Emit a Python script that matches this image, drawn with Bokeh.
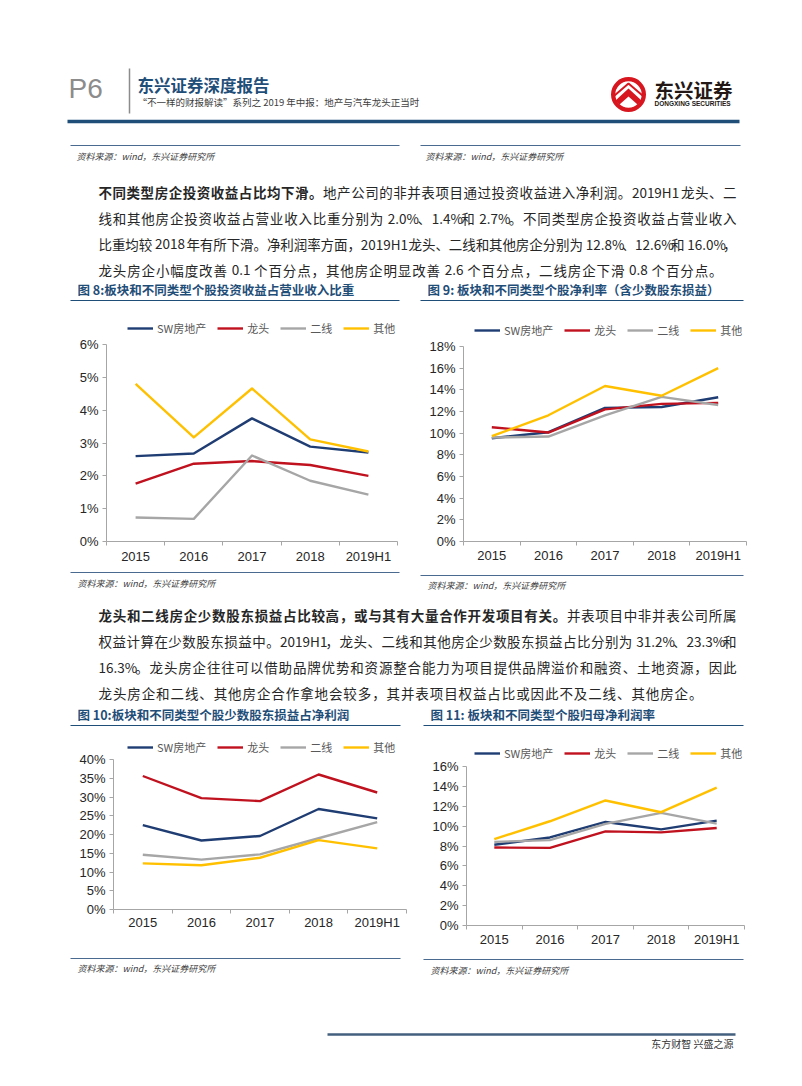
from bokeh.plotting import figure
from bokeh.layouts import column, row
from bokeh.models import Range1d, FixedTicker, PrintfTickFormatter, ColumnDataSource
from bokeh.embed import file_html
from bokeh.resources import INLINE
from bokeh.core.properties import value

# ---------------- data ----------------
CATS = ["2015", "2016", "2017", "2018", "2019H1"]
SERIES = ["SW房地产", "龙头", "二线", "其他"]
COLORS = ["#1F3D73", "#C0111F", "#A6A6A6", "#FFC000"]

# 图8 投资收益占营业收入比重 (%)
F8_SW = [2.60, 2.68, 3.75, 2.89, 2.71]
F8_LT = [1.76, 2.37, 2.45, 2.33, 2.00]
F8_EX = [0.73, 0.69, 2.62, 1.85, 1.43]
F8_QT = [4.80, 3.17, 4.66, 3.11, 2.74]
# 图9 净利率（含少数股东损益） (%)
F9_SW = [9.53, 10.09, 12.33, 12.42, 13.32]
F9_LT = [10.55, 10.06, 12.20, 12.70, 12.80]
F9_EX = [9.60, 9.69, 11.65, 13.35, 12.60]
F9_QT = [9.72, 11.65, 14.35, 13.45, 16.00]
# 图10 少数股东损益占净利润 (%)
F10_SW = [22.5, 18.4, 19.6, 26.8, 24.3]
F10_LT = [35.6, 29.7, 28.9, 36.0, 31.2]
F10_EX = [14.6, 13.3, 14.7, 19.0, 23.3]
F10_QT = [12.3, 11.8, 13.8, 18.5, 16.3]
# 图11 归母净利润率 (%)
F11_SW = [8.12, 8.86, 10.42, 9.67, 10.55]
F11_LT = [7.85, 7.81, 9.47, 9.37, 9.81]
F11_EX = [8.42, 8.59, 10.22, 11.33, 10.25]
F11_QT = [8.69, 10.49, 12.58, 11.40, 13.87]

TITLE8 = "图 8:板块和不同类型个股投资收益占营业收入比重"
TITLE9 = "图 9: 板块和不同类型个股净利率（含少数股东损益）"
TITLE10 = "图 10:板块和不同类型个股少数股东损益占净利润"
TITLE11 = "图 11: 板块和不同类型个股归母净利润率"
SOURCE = "资料来源：wind，东兴证券研究所"

PARA1 = [
    ("不同类型房企投资收益占比均下滑。", "地产公司的非并表项目通过投资收益进入净利润。2019H1 龙头、二"),
    ("", "线和其他房企投资收益占营业收入比重分别为 2.0%、1.4%和 2.7%。不同类型房企投资收益占营业收入"),
    ("", "比重均较 2018 年有所下滑。净利润率方面，2019H1 龙头、二线和其他房企分别为 12.8%、12.6%和 16.0%，"),
    ("", "龙头房企小幅度改善 0.1 个百分点，其他房企明显改善 2.6 个百分点，二线房企下滑 0.8 个百分点。"),
]
PARA2 = [
    ("龙头和二线房企少数股东损益占比较高，或与其有大量合作开发项目有关。", "并表项目中非并表公司所属"),
    ("", "权益计算在少数股东损益中。2019H1，龙头、二线和其他房企少数股东损益占比分别为 31.2%、23.3%和"),
    ("", "16.3%。龙头房企往往可以借助品牌优势和资源整合能力为项目提供品牌溢价和融资、土地资源，因此"),
    ("", "龙头房企和二线、其他房企合作拿地会较多，其并表项目权益占比或因此不及二线、其他房企。"),
]

CJK = "Noto Sans CJK SC"
LAT = "Liberation Sans"
NAVY = "#1F4E79"
RULE = "#4A6B8F"
AX = "#A6A6A6"
W = 802


# ---------------- helpers ----------------
def canvas(h, y0):
    return figure(width=W, height=h, x_range=Range1d(0, W), y_range=Range1d(y0 + h, y0),
                  x_axis_type=None, y_axis_type=None, toolbar_location=None, tools="",
                  output_backend="svg", min_border=0, outline_line_color=None)


def txt(p, x, y, s, size, color, style="normal", font=CJK, align="left"):
    p.text(x=[x], y=[y], text=[s], text_font=value(font), text_font_size=size,
           text_color=color, text_font_style=style, text_align=align, text_baseline="middle")


def hline(p, x0, x1, y, color, width):
    p.segment(x0=[x0], y0=[y], x1=[x1], y1=[y], line_color=color, line_width=width)


def est_w(s, fs):
    w = 0.0
    for ch in s:
        if ord(ch) >= 0x2E80:
            w += fs
        elif ch.isdigit():
            w += 0.53 * fs
        elif ch == ".":
            w += 0.25 * fs
        elif ch == "%":
            w += 0.82 * fs
        elif ch == " ":
            w += 0.22 * fs
        elif ch == "H":
            w += 0.68 * fs
        elif ch.isupper():
            w += 0.62 * fs
        else:
            w += 0.5 * fs
    return w


def tokens(s):
    out, buf = [], ""
    for ch in s:
        if ord(ch) >= 0x2E80 or ch == " ":
            if buf:
                out.append(buf)
                buf = ""
            out.append(ch)
        else:
            buf += ch
    if buf:
        out.append(buf)
    return out


def paragraph(p, lines, x0, ys, ends, fs, color):
    bold = {"x": [], "y": [], "t": []}
    norm = {"x": [], "y": [], "t": []}
    for (b, n), y, x1 in zip(lines, ys, ends):
        items = [(c, True) for c in tokens(b)] + [(c, False) for c in tokens(n)]
        ws = [est_w(c, fs) for c, _ in items]
        gap = ((x1 - x0) - sum(ws)) / max(1, len(items) - 1)
        x = x0
        for (c, isb), w in zip(items, ws):
            if c != " ":
                d = bold if isb else norm
                d["x"].append(x)
                d["y"].append(y)
                d["t"].append(c)
            x += w + gap
    for d, st in ((bold, "bold"), (norm, "normal")):
        if d["t"]:
            p.text(x="x", y="y", text="t", source=ColumnDataSource(d), text_font=value(CJK),
                   text_font_size=f"{fs}px", text_color=color, text_font_style=st,
                   text_baseline="middle", text_align="left")


def chart(w, h, bl, br, bb, ytop, ybound, ystep, data, leg_xy, standoff):
    p = figure(width=w, height=h, x_range=Range1d(-0.5, len(CATS) - 0.5),
               y_range=Range1d(0, ytop), toolbar_location=None, tools="", output_backend="svg",
               min_border_left=bl, min_border_right=br, min_border_top=0, min_border_bottom=bb,
               outline_line_color=None)
    xs = list(range(len(CATS)))
    for name, vals, col in zip(SERIES, data, COLORS):
        p.line(xs, vals, line_color=col, line_width=2.4, line_join="round", legend_label=name)
    p.xgrid.visible = False
    p.ygrid.visible = False
    xa = p.xaxis[0]
    xa.ticker = FixedTicker(ticks=xs, minor_ticks=[i - 0.5 for i in range(len(CATS) + 1)])
    xa.major_label_overrides = {i: c for i, c in enumerate(CATS)}
    xa.major_tick_in = 0
    xa.major_tick_out = 0
    xa.minor_tick_in = 0
    xa.minor_tick_out = 4
    xa.minor_tick_line_color = AX
    xa.axis_line_color = AX
    xa.major_label_standoff = standoff
    ya = p.yaxis[0]
    ya.ticker = FixedTicker(ticks=list(range(0, ybound + 1, ystep)))
    ya.formatter = PrintfTickFormatter(format="%d%%")
    ya.bounds = (0, ybound)
    ya.major_tick_in = 0
    ya.major_tick_out = 4
    ya.major_tick_line_color = AX
    ya.axis_line_color = AX
    ya.major_label_standoff = 4
    for a in (xa, ya):
        a.major_label_text_font = LAT
        a.major_label_text_font_size = "13px"
        a.major_label_text_color = "#262626"
    lg = p.legend[0]
    lg.orientation = "horizontal"
    lg.location = leg_xy
    lg.glyph_width = 26
    lg.glyph_height = 14
    lg.label_height = 14
    lg.label_standoff = 4
    lg.spacing = 11
    lg.padding = 0
    lg.margin = 0
    lg.border_line_color = None
    lg.background_fill_alpha = 0
    lg.label_text_font = CJK
    lg.label_text_font_size = "11px"
    lg.label_text_color = "#595959"
    return p


# ---------------- top block (y 0..310) ----------------
top = canvas(310, 0)
txt(top, 68, 88, "P6", "28px", "#8C8C8C", font=LAT)
top.segment(x0=[129], y0=[68], x1=[129], y1=[113], line_color="#8C8C8C", line_width=1.5)
txt(top, 137, 84, "东兴证券深度报告", "16.5px", NAVY, style="bold")
txt(top, 137, 101, "“不一样的财报解读”系列之 2019 年中报：地产与汽车龙头正当时", "9.5px", "#404040")
RED = "#D7161F"
top.annulus(x=[628], y=[94], inner_radius=13.2, outer_radius=17.5, fill_color=RED, line_color=None)
top.patch(x=[615, 628, 641, 637, 628, 619], y=[100, 88, 100, 104, 96, 104], fill_color=RED, line_color=None)
top.line(x=[614, 628, 642], y=[95, 83, 95], line_color=RED, line_width=2)
txt(top, 654, 89, "东兴证券", "19.5px", "#231815", style="bold")
txt(top, 654, 103, "DONGXING SECURITIES", "6.5px", "#231815", style="bold", font=LAT)
hline(top, 67, 739, 121, NAVY, 3.5)
hline(top, 70, 399, 145, RULE, 1.2)
hline(top, 420, 740, 145, RULE, 1.2)
txt(top, 76, 156, SOURCE, "9px", "#404040", style="italic")
txt(top, 425, 156, SOURCE, "9px", "#404040", style="italic")
paragraph(top, PARA1, 98, [191, 217, 243, 269], [736, 736, 736, 722], 13.5, "#262626")
txt(top, 77, 289, TITLE8, "12.5px", NAVY, style="bold")
txt(top, 427, 289, TITLE9, "12.5px", NAVY, style="bold")
hline(top, 70, 399, 300, NAVY, 1.2)
hline(top, 420, 743, 300, NAVY, 1.2)

# ---------------- row B (y 310..570) ----------------
c8 = chart(410, 260, 106, 13, 29, 231 / (197 / 6), 6, 1,
           [F8_SW, F8_LT, F8_EX, F8_QT], (21, 205), 3)
c9 = chart(392, 260, 53, 56, 29, 231 / (195 / 18), 18, 2,
           [F9_SW, F9_LT, F9_EX, F9_QT], (11, 203), 2)

# ---------------- middle block (y 570..735) ----------------
mid = canvas(165, 570)
hline(mid, 70, 399, 572, RULE, 1.2)
hline(mid, 420, 743, 575, RULE, 1.2)
txt(mid, 77, 583, SOURCE, "9px", "#404040", style="italic")
txt(mid, 427, 585, SOURCE, "9px", "#404040", style="italic")
paragraph(mid, PARA2, 98, [614, 640, 666, 692], [736, 736, 736, 702], 13.5, "#262626")
txt(mid, 77, 714, TITLE10, "12.5px", NAVY, style="bold")
txt(mid, 430, 714, TITLE11, "12.5px", NAVY, style="bold")
hline(mid, 70, 400, 725, NAVY, 1.2)
hline(mid, 423, 743, 725, NAVY, 1.2)

# ---------------- row D (y 735..955) ----------------
c10 = chart(410, 220, 113, 4, 46, 174 / 3.75, 40, 5,
            [F10_SW, F10_LT, F10_EX, F10_QT], (14, 154), 1)
c11 = chart(392, 220, 56, 58, 30, 190 / (159 / 16), 16, 2,
            [F11_SW, F11_LT, F11_EX, F11_QT], (8, 164), 2)

# ---------------- bottom block (y 955..1080) ----------------
bot = canvas(125, 955)
hline(bot, 70, 400, 958, RULE, 1.2)
hline(bot, 423, 743, 959, RULE, 1.2)
txt(bot, 77, 968, SOURCE, "9px", "#404040", style="italic")
txt(bot, 430, 970, SOURCE, "9px", "#404040", style="italic")
hline(bot, 327, 735, 1034, "#44607F", 2.5)
txt(bot, 733, 1043, "东方财智 兴盛之源", "10px", "#333333", align="right")

layout = column(top, row(c8, c9), mid, row(column(c10), column(c11)), bot)
open("out.html", "w").write(file_html(layout, INLINE))
